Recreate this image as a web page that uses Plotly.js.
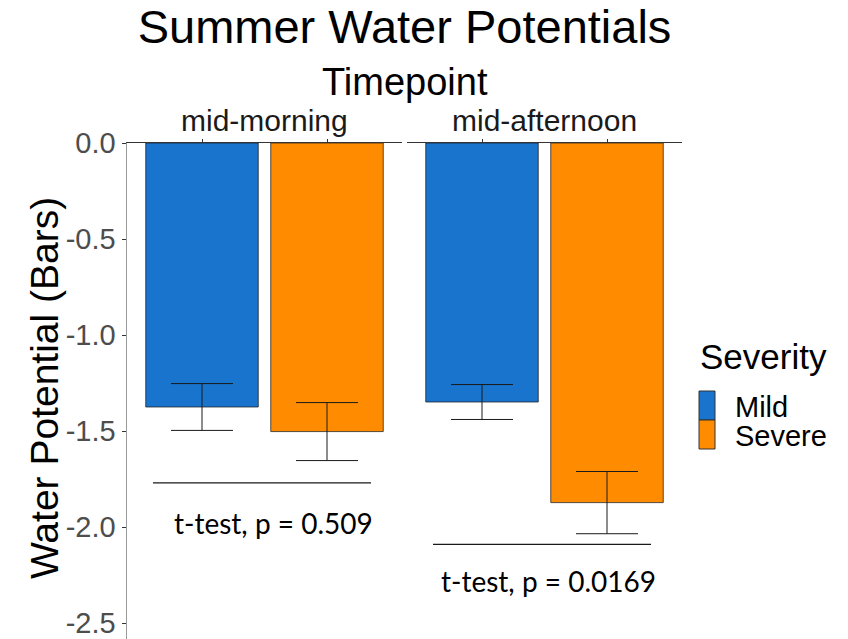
<!DOCTYPE html>
<html><head><meta charset="utf-8">
<script src="https://cdn.plot.ly/plotly-3.0.1.min.js"></script>
<style>html,body{margin:0;padding:0;background:#fff}</style>
</head><body><div id="chart" style="width:848px;height:639px"></div>
<script>
// ---- data ----
const timepoints = ['mid-morning', 'mid-afternoon'];
const severities = ['Mild', 'Severe'];
const mildMean = [-1.375, -1.349];
const mildSE = [0.122, 0.091];
const severeMean = [-1.503, -1.873];
const severeSE = [0.151, 0.162];
const pLabels = ['t-test, p = 0.509', 't-test, p = 0.0169'];
const bracketY = [-1.77, -2.09];
const yTickVals = [0, -0.5, -1.0, -1.5, -2.0, -2.5];
const yTickText = ['0.0', '-0.5', '-1.0', '-1.5', '-2.0', '-2.5'];

// ---- styling / layout ----
const W = 848, H = 639, TOP = 143;
const colors = {Mild: '#1874CD', Severe: '#FF8C00'};
const xdom = [[127 / W, 402 / W], [407 / W, 682 / W]];
const axisIds = ['x', 'x2'];
const labelOffsetY = [-0.21, -0.19];
const labelX = [0.572, 0.528];
const SANS = 'Liberation Sans, Arial, sans-serif';
const px2x = px => px / W;
const px2y = py => 1 - (py - TOP) / (H - TOP);

const seriesMean = {Mild: mildMean, Severe: severeMean};
const seriesSE = {Mild: mildSE, Severe: severeSE};

const traces = [];
const annotations = [];
const shapes = [];
timepoints.forEach((tp, i) => {
  const xa = axisIds[i];
  severities.forEach((sev, j) => {
    traces.push({
      type: 'bar', x: [j], y: [seriesMean[sev][i]], xaxis: xa, yaxis: 'y',
      name: sev, showlegend: false, width: 0.9,
      marker: {color: colors[sev], line: {color: 'rgba(30,30,30,0.75)', width: 1}},
      error_y: {type: 'data', array: [seriesSE[sev][i]], visible: true, color: '#1a1a1a', thickness: 1, width: 31},
      hoverinfo: 'none'
    });
  });
  traces.push({
    type: 'scatter', mode: 'lines', x: [-0.392, 1.352], y: [bracketY[i], bracketY[i]],
    xaxis: xa, yaxis: 'y', showlegend: false, hoverinfo: 'none',
    line: {color: '#1a1a1a', width: 1.3}
  });
  annotations.push({
    xref: xa, yref: 'y', x: labelX[i], y: bracketY[i] + labelOffsetY[i],
    text: pLabels[i], showarrow: false, xanchor: 'center', yanchor: 'middle',
    font: {family: 'Lato, Carlito, sans-serif', size: 28, color: '#000'}
  });
  annotations.push({
    xref: 'paper', yref: 'paper', x: (xdom[i][0] + xdom[i][1]) / 2, y: px2y(121),
    text: tp, showarrow: false, xanchor: 'center', yanchor: 'middle',
    font: {family: SANS, size: 30, color: '#1a1a1a'}
  });
});
annotations.push({
  xref: 'paper', yref: 'paper', x: px2x(404.5), y: px2y(82),
  text: 'Timepoint', showarrow: false, xanchor: 'center', yanchor: 'middle',
  font: {family: SANS, size: 38, color: '#000'}
});
annotations.push({
  xref: 'paper', yref: 'paper', x: px2x(44), y: px2y(388),
  text: 'Water Potential (Bars)', textangle: -90, showarrow: false, xanchor: 'center', yanchor: 'middle',
  font: {family: SANS, size: 39, color: '#000'}
});

// legend (drawn manually to match the tall ggplot keys)
annotations.push({
  xref: 'paper', yref: 'paper', x: px2x(698), y: px2y(356),
  text: 'Severity', showarrow: false, xanchor: 'left', yanchor: 'middle',
  font: {family: SANS, size: 35, color: '#000'}
});
const keyTop = 391, keyH = 29;
severities.forEach((sev, j) => {
  const y0 = keyTop + j * keyH, y1 = y0 + keyH;
  shapes.push({type: 'rect', xref: 'paper', yref: 'paper', x0: px2x(699), x1: px2x(715),
    y0: px2y(y1), y1: px2y(y0), fillcolor: colors[sev], line: {color: '#333', width: 1}});
  annotations.push({
    xref: 'paper', yref: 'paper', x: px2x(733), y: px2y((y0 + y1) / 2 + 1),
    text: sev, showarrow: false, xanchor: 'left', yanchor: 'middle',
    font: {family: SANS, size: 29, color: '#000'}
  });
});

const xaxisBase = {
  range: [-0.6, 1.6], side: 'top', anchor: 'y', showline: true, linecolor: '#333', linewidth: 1,
  ticks: 'outside', ticklen: 3, tickcolor: '#333', tickvals: [0, 1], showticklabels: false,
  showgrid: false, zeroline: false, fixedrange: true
};

const layout = {
  width: W, height: H,
  margin: {l: 0, r: 0, t: TOP, b: 0, pad: 0},
  paper_bgcolor: '#fff', plot_bgcolor: 'rgba(0,0,0,0)',
  title: {text: 'Summer Water Potentials', x: px2x(404.5), xref: 'container', xanchor: 'center',
          y: 1 - 27 / H, yref: 'container', yanchor: 'middle',
          font: {family: SANS, size: 47, color: '#000'}},
  xaxis: Object.assign({}, xaxisBase, {domain: xdom[0]}),
  xaxis2: Object.assign({}, xaxisBase, {domain: xdom[1]}),
  yaxis: {
    range: [-(H - TOP) / 192, 0], anchor: 'x', showline: true, linecolor: '#9a9a9a', linewidth: 1.5,
    ticks: 'outside', ticklen: 4, tickcolor: '#333', tickvals: yTickVals, ticktext: yTickText,
    ticklabeloverflow: 'allow',
    tickfont: {family: SANS, size: 29, color: '#4D4D4D'}, showgrid: false, zeroline: false, fixedrange: true
  },
  showlegend: false,
  shapes: shapes,
  annotations: annotations
};

Plotly.newPlot('chart', traces, layout, {staticPlot: true, displayModeBar: false});
</script></body></html>
